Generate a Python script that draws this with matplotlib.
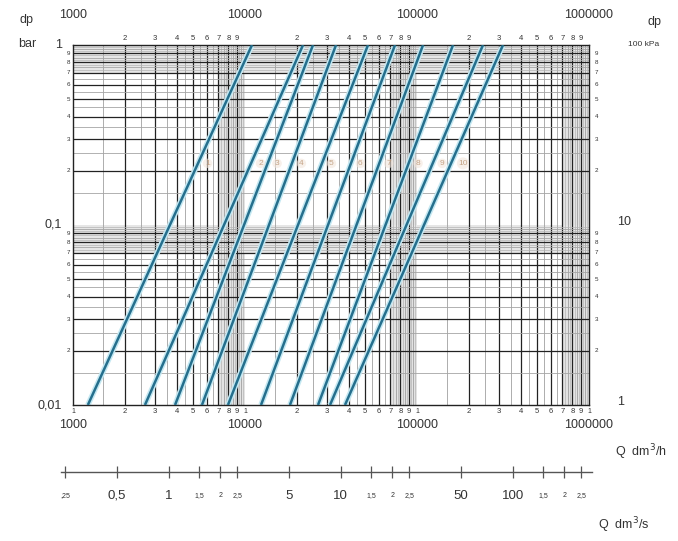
import numpy as np
import matplotlib
matplotlib.use("Agg")
import matplotlib.pyplot as plt

plt.rcParams['font.family'] = ['Liberation Sans', 'DejaVu Sans']

# flow (dm3/h) of each curve at dp = 0.01 bar and at dp = 1 bar
q_at_001 = [1220, 2620, 3920, 5620, 7960, 12390, 18260, 26580, 31210, 38140]
q_at_1 = [10980, 21740, 24850, 33810, 51900, 74500, 108400, 161900, 241900, 316200]
curve_ids = ['1', '2', '3', '4', '5', '6', '7', '8', '9', '10']
label_dp = 0.22

major_q = [1000, 10000, 100000, 1000000]
major_q_labels = ['1000', '10000', '100000', '1000000']
mantissa = [2, 3, 4, 5, 6, 7, 8, 9]

dp_major = [0.01, 0.1, 1]
dp_labels_bar = ['0,01', '0,1', '1']
dp_labels_kpa = ['1', '10', '']

qs_ticks = [0.25, 0.5, 1, 1.5, 2, 2.5, 5, 10, 15, 20, 25, 50, 100, 150, 200, 250]
qs_labels = [',25', '0,5', '1', '1,5', '2', '2,5', '5', '10', '1,5', '2', '2,5',
             '50', '100', '1,5', '2', '2,5']
qs_small = [True, False, False, True, True, True, False, False, True, True, True,
            False, False, True, True, True]

W, H = 678, 541
fig = plt.figure(figsize=(W / 100, H / 100), dpi=100)
x0, x1 = 73 / W, 589 / W
y0, y1 = 1 - 405 / H, 1 - 45 / H
ax = fig.add_axes([x0, y0, x1 - x0, y1 - y0])
ax.set_xscale('log')
ax.set_yscale('log')
ax.set_xlim(1000, 1000000)
ax.set_ylim(0.01, 1)

txt = '#333333'
line_col = '#256f8d'

# grey bands where the grid gets dense
for d in [1000, 10000, 100000]:
    ax.axvspan(7 * d, 10 * d, color='#e3e3e3', zorder=0, lw=0)
for d in [0.01, 0.1]:
    ax.axhspan(7 * d, 10 * d, color='#e6e6e6', zorder=0, lw=0)

# grid
for d in [1000, 10000, 100000]:
    for m in np.arange(1.5, 10, 0.5):
        if m == int(m):
            ax.axvline(m * d, color='#222222', lw=0.9, zorder=1)
        else:
            ax.axvline(m * d, color='#a0a0a0', lw=0.6, zorder=1)
    for m in [7.25, 7.75, 8.25, 8.75, 9.25, 9.75]:
        ax.axvline(m * d, color='#b5b5b5', lw=0.5, zorder=1)
for d in [0.01, 0.1]:
    for m in np.arange(1.5, 10, 0.5):
        if m == int(m):
            ax.axhline(m * d, color='#222222', lw=0.9, zorder=1)
        else:
            ax.axhline(m * d, color='#a5a5a5', lw=0.6, zorder=1)
    for m in [7.25, 7.75, 8.25, 8.75, 9.25, 9.75]:
        ax.axhline(m * d, color='#b5b5b5', lw=0.5, zorder=1)

# curves
for ql, qh in zip(q_at_001, q_at_1):
    ax.plot([ql, qh], [0.01, 1], color='#c4e8f2', lw=4.0, zorder=2,
            solid_capstyle='butt')
    ax.plot([ql, qh], [0.01, 1], color=line_col, lw=1.8, zorder=3,
            solid_capstyle='butt')

# curve number marks
for cid, ql, qh in zip(curve_ids, q_at_001, q_at_1):
    n = 2 / np.log10(qh / ql)
    qm = ql * (label_dp / 0.01) ** (1 / n)
    ax.text(qm * 1.1, label_dp, cid, fontsize=6, color='#b89270', ha='left',
            va='center', zorder=4, alpha=0.8,
            bbox=dict(boxstyle='circle,pad=0.15', fc='#f3e6dc', ec='none',
                      alpha=0.6))

for s in ax.spines.values():
    s.set_color('#222222')
    s.set_linewidth(1.0)

ax.set_xticks([])
ax.set_yticks([])
ax.minorticks_off()

# x labels top and bottom
xt = ax.get_xaxis_transform()
for q, lab in zip(major_q, major_q_labels):
    ax.annotate(lab, (q, 1.0), xycoords=xt, xytext=(0, 17),
                textcoords='offset points', ha='center', va='bottom',
                fontsize=9, color=txt)
    ax.annotate(lab, (q, 0.0), xycoords=xt, xytext=(0, -10),
                textcoords='offset points', ha='center', va='top',
                fontsize=9, color=txt)
    ax.annotate('1', (q, 0.0), xycoords=xt, xytext=(0, -2),
                textcoords='offset points', ha='center', va='top',
                fontsize=5, color=txt)
for d in [1000, 10000, 100000]:
    for m in mantissa:
        ax.annotate(str(m), (m * d, 1.0), xycoords=xt, xytext=(0, 2),
                    textcoords='offset points', ha='center', va='bottom',
                    fontsize=5.5, color=txt)
        ax.annotate(str(m), (m * d, 0.0), xycoords=xt, xytext=(0, -2),
                    textcoords='offset points', ha='center', va='top',
                    fontsize=5.5, color=txt)

# y labels
yt = ax.get_yaxis_transform()
for v, lb, lk in zip(dp_major, dp_labels_bar, dp_labels_kpa):
    ax.annotate(lb, (0, v), xycoords=yt, xytext=(-8, 0),
                textcoords='offset points', ha='right', va='center',
                fontsize=9, color=txt)
    ax.annotate(lk, (1, v), xycoords=yt, xytext=(20, 2),
                textcoords='offset points', ha='left', va='center',
                fontsize=9, color=txt)
for d in [0.01, 0.1]:
    for m in mantissa:
        ax.annotate(str(m), (0, m * d), xycoords=yt, xytext=(-2, 0),
                    textcoords='offset points', ha='right', va='center',
                    fontsize=4.5, color=txt)
        ax.annotate(str(m), (1, m * d), xycoords=yt, xytext=(4, 0),
                    textcoords='offset points', ha='left', va='center',
                    fontsize=4.5, color=txt)

fig.text(20 / W, 1 - 20 / H, 'dp', fontsize=9, color=txt, ha='left', va='center')
fig.text(18 / W, 1 - 44 / H, 'bar', fontsize=9, color=txt, ha='left', va='center')
fig.text(648 / W, 1 - 22 / H, 'dp', fontsize=9, color=txt, ha='left', va='center')
fig.text(628 / W, 1 - 45 / H, '100 kPa', fontsize=6, color=txt, ha='left', va='center')
fig.text(615 / W, 1 - 452 / H, 'Q  dm$^3$/h', fontsize=9, color=txt, ha='left', va='center')
fig.text(598 / W, 1 - 525 / H, 'Q  dm$^3$/s', fontsize=9, color=txt, ha='left', va='center')

# second flow scale in dm3/s
yb = 1 - 472 / H
ax2 = fig.add_axes([x0, yb, x1 - x0, 0.0001])
ax2.set_xscale('log')
ax2.set_xlim(1000 / 3600, 1000000 / 3600)
ax2.set_ylim(-1, 1)
ax2.axis('off')
ax2.plot([0.235, 290], [0, 0], color='#555555', lw=1.0, clip_on=False)
for v, lab, sm in zip(qs_ticks, qs_labels, qs_small):
    ax2.plot([v], [0], marker='|', ms=9, mew=0.9, color='#555555', clip_on=False)
    ax2.annotate(lab, (v, 0), xycoords='data', xytext=(0, -17),
                 textcoords='offset points', ha='center', va='center',
                 fontsize=5 if sm else 9.5, color=txt, annotation_clip=False)

fig.savefig('out.png', dpi=100)
